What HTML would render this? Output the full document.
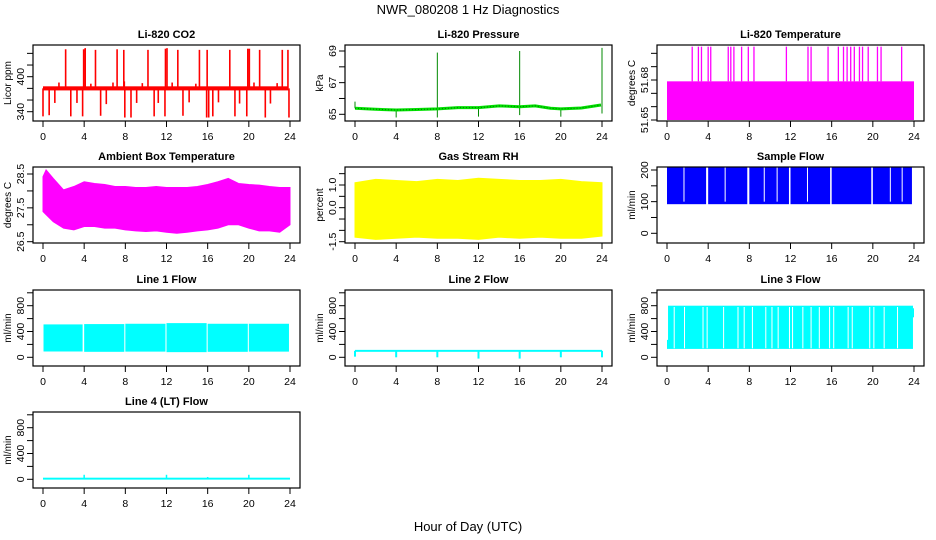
<!DOCTYPE html>
<html><head><meta charset="utf-8"><style>
html,body{margin:0;padding:0;background:#fff;}
svg{display:block;font-family:"Liberation Sans",Arial,sans-serif;}
</style></head><body>
<svg id="chart" width="936" height="540" viewBox="0 0 936 540" xmlns="http://www.w3.org/2000/svg">
<rect width="936" height="540" fill="#fff"/>
<text x="468" y="14" text-anchor="middle" font-size="13">NWR_080208  1 Hz Diagnostics</text>
<text x="468" y="531" text-anchor="middle" font-size="13">Hour of Day (UTC)</text>
</svg>
<script>
// ---- data ----
const xTicks = [0,4,8,12,16,20,24];
// CO2
const co2Base = 380;
const co2SpikeHours = [2.2,3.95,4.1,5.1,7.2,7.85,10.2,11.9,12.05,13.1,15.2,15.95,18.15,19.9,20.05,21.05,23.25,23.8,
 1.55,4.65,6.8,7.9,9.65,12.55,14.85,20.5,22.75,
 0,0.6,2.7,3.85,5.6,7.95,8.55,10.8,11.85,13.6,15.9,16.1,16.5,18.65,19.8,21.6,23.9,
 1.15,3.3,6.15,9.1,11.2,14.2,17.05,19.1,22.1];
const co2SpikeValues = [447,447,449,446,447,446,446,448,449,446,446,446,446,448,448,446,446,446,
 390,388,390,392,389,390,388,390,389,
 332,334,332,332,333,330,330,332,332,333,330,330,332,332,332,330,330,
 355,355,353,355,355,356,356,354,354];
// Pressure
const presHours = [0,2,4,6,8,10,12,14,16,17.5,19,20,22,23.9];
const presValues = [65.38,65.32,65.27,65.3,65.34,65.42,65.42,65.53,65.48,65.53,65.38,65.34,65.4,65.59];
const presSpikeHours = [0,4,8,8,12,16,16,20,24,24];
const presSpikeValues = [65.8,64.8,68.9,64.8,64.85,69.0,64.95,64.85,69.2,65.05];
// Li-820 temperature
const ltBandLow = 51.65, ltBandHigh = 51.679, ltSpikeValue = 51.705;
const ltSpikeHours = [2.45,3.05,3.35,4.0,4.25,5.95,6.2,6.5,7.25,7.9,8.45,11.6,13.7,14.0,15.65,16.65,17.15,17.5,17.85,18.2,18.7,19.0,19.55,20.45,20.8,22.8];
// Ambient box temperature
const ambHours = [0,0.3,1,2,3,4,5,6,7,8,9,10,11,12,13,14,15,16,17,18,19,20,21,22,23,24];
const ambUpper = [28.42,28.62,28.37,28.03,28.13,28.27,28.22,28.19,28.13,28.13,28.1,28.1,28.13,28.1,28.1,28.1,28.13,28.19,28.27,28.37,28.22,28.19,28.17,28.13,28.1,28.1];
const ambLower = [27.39,27.3,27.09,26.9,26.85,26.95,26.95,26.9,26.9,26.85,26.82,26.8,26.82,26.78,26.75,26.78,26.82,26.85,26.9,27.0,27.0,26.9,26.82,26.82,26.78,27.0];
// Gas stream RH
const rhHours = [0,2,4,6,8,10,12,14,16,18,20,22,24];
const rhUpper = [1.1,1.25,1.2,1.15,1.25,1.2,1.3,1.25,1.2,1.2,1.25,1.15,1.1];
const rhLower = [-1.3,-1.4,-1.35,-1.3,-1.35,-1.35,-1.4,-1.3,-1.35,-1.3,-1.35,-1.35,-1.25];
// Sample flow
const sfStarts = [0,4,8,12,16,20];
const sfEnds = [3.8,7.8,11.85,15.85,19.85,23.8];
const sfLow = 92, sfHigh = 210;
const sfGapHours = [1.65,5.65,9.45,10.7,13.65,21.7,22.85];
// Line 1 flow
const l1Starts = [0.05,4,8,12,16,20];
const l1Ends = [3.85,7.9,11.9,15.9,19.9,23.9];
const l1Low = [90,85,88,80,85,88], l1High = [510,515,520,530,520,520];
// Line 2 flow
const l2Level = 100;
const l2DipHours = [0,4,8,12,16,20,24];
const l2DipValues = [10,0,0,-20,-20,0,0];
// Line 3 flow
const l3Start = 0.1, l3End = 23.9, l3Low = 130, l3High = 800;
const l3GapHours = [0.7,1.7,3.5,3.9,5.5,6.9,7.5,8.3,9.6,10.2,10.8,11.9,12.2,13.2,14.0,14.8,15.8,16.2,17.6,18.0,19.7,20.1,21.1,22.4];
// Line 4 flow
const l4Level = 10;
const l4SpikeHours = [4,12,16,20];
const l4SpikeValues = [70,70,35,70];

// ---- layout ----
const svg = document.getElementById('chart');
const NS = 'http://www.w3.org/2000/svg';
const colX = [33,345,657], rowY = [45,167,290,412], W = 267, H = 76;
function mk(tag, attrs, parent){
  const e = document.createElementNS(NS, tag);
  for (const k in attrs) e.setAttribute(k, attrs[k]);
  (parent||svg).appendChild(e); return e;
}
function panel(name, title, ylab, col, row, v1, p1, v2, p2, ticks, labels){
  const x0 = colX[col], y0 = rowY[row];
  const g = mk('g', {});
  
  
  const xs = h => x0 + 10 + h * (247/24);
  const ys = v => y0 + p1 + (v - v1) * (p2 - p1) / (v2 - v1);
  const plot = mk('g', {}, g);
  
  
  // axes
  const box = mk('rect', {x:x0, y:y0, width:W, height:H, fill:'none', stroke:'#000', 'stroke-width':1.2}, g);
  
  
  const t = mk('text', {x:x0+W/2, y:y0-7, 'text-anchor':'middle', 'font-size':11, 'font-weight':'bold'}, g);
  
  
  t.textContent = title;
  const yl = mk('text', {transform:`translate(${x0-22},${y0+H/2}) rotate(-90)`, 'text-anchor':'middle', 'font-size':10}, g);
  
  
  yl.textContent = ylab;
  xTicks.forEach(h => {
    mk('line', {x1:xs(h), x2:xs(h), y1:y0+H, y2:y0+H+6, stroke:'#000'}, g);
    const tl = mk('text', {x:xs(h), y:y0+H+19, 'text-anchor':'middle', 'font-size':10.5}, g);
    
    
    tl.textContent = h;
  });
  ticks.forEach(v => {
    mk('line', {x1:x0-6, x2:x0, y1:ys(v), y2:ys(v), stroke:'#000'}, g);
  });
  labels.forEach(v => {
    const tl = mk('text', {transform:`translate(${x0-9},${ys(v)}) rotate(-90)`, 'text-anchor':'middle', 'font-size':10.5}, g);
    
    
    tl.textContent = v;
  });
  return {xs, ys, g:plot, x0, y0};
}
function vline(p, h, a, b, color, w){
  mk('line', {x1:p.xs(h), x2:p.xs(h), y1:p.ys(a), y2:p.ys(b), stroke:color, 'stroke-width':w||1.5}, p.g);
}
function band(p, hours, up, lo, color){
  let d = '';
  hours.forEach((h,i) => d += (i?'L':'M') + p.xs(h) + ',' + p.ys(up[i]));
  for (let i = hours.length-1; i >= 0; i--) d += 'L' + p.xs(hours[i]) + ',' + p.ys(lo[i]);
  mk('path', {d: d+'Z', fill:color, stroke:color}, p.g);
}
function rectBand(p, a, b, lo, hi, color){
  mk('rect', {x:p.xs(a), y:p.ys(hi), width:p.xs(b)-p.xs(a), height:p.ys(lo)-p.ys(hi), fill:color}, p.g);
}

// CO2
let p = panel('co2','Li-820 CO2','Licor ppm',0,0,340,66.7,400,31.7,[340,360,380,400,420,440],[340,400]);
co2SpikeHours.forEach((h,i) => vline(p, h, co2Base, co2SpikeValues[i], '#ff0000', 1.6));
rectBand(p, 0, 23.85, co2Base-3.5, co2Base+3.5, '#ff0000');
// Pressure
p = panel('pressure','Li-820 Pressure','kPa',1,0,65,69.3,69,6,[65,66,67,68,69],[65,67,69]);
presSpikeHours.forEach((h,i) => vline(p, h, presValues[Math.min(presHours.length-1, presHours.findIndex(x=>x>=h-0.01) < 0 ? presHours.length-1 : presHours.findIndex(x=>x>=h-0.01))], presSpikeValues[i], '#008800', 1));
{
  let d=''; presHours.forEach((h,i)=> d += (i?'L':'M') + p.xs(h) + ',' + p.ys(presValues[i]));
  mk('path', {d, fill:'none', stroke:'#00e000', 'stroke-width':3}, p.g);
  mk('path', {d, fill:'none', stroke:'#007000', 'stroke-width':1, 'stroke-dasharray':'1 2'}, p.g);
}
// Li-820 temp
p = panel('li820-temp','Li-820 Temperature','degrees C',2,0,51.65,75,51.68,35,[51.65,51.66,51.67,51.68,51.69,51.70],['51.65','51.68']);
rectBand(p, 0, 24, ltBandLow, ltBandHigh, '#ff00ff');
ltSpikeHours.forEach(h => vline(p, h, ltBandHigh, ltSpikeValue, '#ff00ff', 1.3));
// Ambient
p = panel('ambient-temp','Ambient Box Temperature','degrees C',0,1,28.5,7,26.5,74.7,[26.5,27,27.5,28,28.5],['26.5','27.5','28.5']);
band(p, ambHours, ambUpper, ambLower, '#ff00ff');
// RH
p = panel('gas-rh','Gas Stream RH','percent',1,1,-1.5,74.7,1.0,18,[-1.5,-1,-0.5,0,0.5,1,1.5],['-1.5','0.0','1.0']);
band(p, rhHours, rhUpper, rhLower, '#ffff00');
// Sample flow
p = panel('sample-flow','Sample Flow','ml/min',2,1,0,66.3,200,3,[0,50,100,150,200],[0,100,200]);
sfStarts.forEach((s,i) => rectBand(p, s, sfEnds[i], sfLow, sfHigh, '#0000ff'));
sfGapHours.forEach(h => vline(p, h, 100, sfHigh, '#ffffff', 1));
// Line flows
const fv1 = 0, fp1 = 67.3, fv2 = 800, fp2 = 15.7, fTicks = [0,200,400,600,800,1000], fLabels = [0,400,800];
p = panel('line1-flow','Line 1 Flow','ml/min',0,2,fv1,fp1,fv2,fp2,fTicks,fLabels);
l1Starts.forEach((s,i) => rectBand(p, s, l1Ends[i], l1Low[i], l1High[i], '#00ffff'));
p = panel('line2-flow','Line 2 Flow','ml/min',1,2,fv1,fp1,fv2,fp2,fTicks,fLabels);
rectBand(p, 0, 24, l2Level-15, l2Level+15, '#00ffff');
l2DipHours.forEach((h,i) => vline(p, h, l2Level, l2DipValues[i], '#00ffff', 2));
p = panel('line3-flow','Line 3 Flow','ml/min',2,2,fv1,fp1,fv2,fp2,fTicks,fLabels);
rectBand(p, l3Start, l3End, l3Low, l3High, '#00ffff');
rectBand(p, 0, l3Start, l3Low, 270, '#00ffff');
rectBand(p, l3End, 24, 620, 760, '#00ffff');
l3GapHours.forEach(h => vline(p, h, l3Low+10, l3High-20, '#ffffff', 1));
p = panel('line4-flow','Line 4 (LT) Flow','ml/min',0,3,fv1,fp1,fv2,fp2,fTicks,fLabels);
rectBand(p, 0, 24, l4Level-15, l4Level+15, '#00ffff');
l4SpikeHours.forEach((h,i) => vline(p, h, l4Level, l4SpikeValues[i], '#00ffff', 1.5));
</script>
</body></html>
